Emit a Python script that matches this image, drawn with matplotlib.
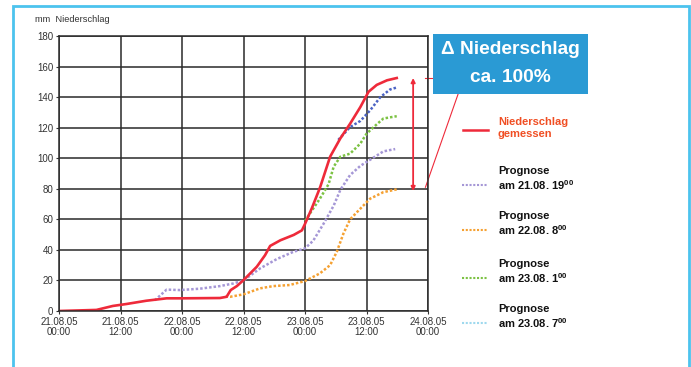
import matplotlib
matplotlib.use("Agg")
import matplotlib.pyplot as plt
from matplotlib.patches import Rectangle

plt.rcParams["font.family"] = ["Liberation Sans", "DejaVu Sans"]
plt.rcParams["mathtext.fontset"] = "custom"
plt.rcParams["mathtext.rm"] = "Liberation Sans:bold"
plt.rcParams["mathtext.it"] = "Liberation Sans:bold"

# Stunden ab 21.08.05 00:00
gemessen_t = [0, 7.3, 10.5, 13.2, 17, 21, 24.2, 31.4, 32.7, 33.5, 34.7, 36, 38.6, 40.2,
              41.2, 43.2, 45.8, 47.4, 48, 49.3, 50.6, 51, 52.9, 54.9, 56.8, 58.8, 60.4,
              62, 64, 65.9]
gemessen_v = [0, 0.7, 3.3, 4.6, 6.7, 8.3, 8.3, 8.5, 9.3, 13.7, 16.3, 20.2, 29, 36.5,
              42.6, 46.3, 49.8, 52.8, 57, 67, 78, 81.5, 101, 113, 122.6, 133.5, 143.5,
              148, 151, 152.5]

p2119_t = [18.7, 21, 23.6, 27.5, 31.4, 34, 36, 39.2, 42.5, 45.7, 48, 49.6, 51.6, 53.6,
           54.9, 56.8, 58.8, 60.7, 63.3, 65.6]
p2119_v = [7, 14, 13.7, 14.6, 16.3, 18, 20, 27.8, 34, 38.7, 41, 46, 57, 69,
           79.3, 89, 95, 99, 104.5, 106]

p2208_t = [32.5, 33.4, 36, 39.2, 41.8, 45, 48, 50.9, 52.9, 54.2, 55.5, 56.8, 58.8, 60.7,
           63.3, 65.9]
p2208_v = [9.5, 9.3, 10.9, 14.8, 16.3, 17, 19.6, 24.6, 30, 38.7, 50.7, 60, 67, 73.5,
           77.8, 79.6]

p2301_t = [48, 50.9, 52.6, 53.6, 54.9, 56.8, 58.8, 60, 61.4, 63.3, 65.9]
p2301_v = [59, 73.5, 83, 94.5, 101, 103, 109.6, 116, 120.4, 126, 127.5]

p2307_t = [54.5, 56.8, 58.8, 60.7, 62.7, 64.6, 65.9]
p2307_v = [112, 120.4, 124.4, 131.3, 140, 145, 146.3]

x_ticks = [0, 12, 24, 36, 48, 60, 72]
x_labels = ["21.08.05\n00:00", "21.08.05\n12:00", "22.08.05\n00:00", "22.08.05\n12:00",
            "23.08.05\n00:00", "23.08.05\n12:00", "24.08.05\n00:00"]
y_ticks = list(range(0, 181, 20))

prognosen = [
    (p2119_t, p2119_v, "#a597d6", "am 21.08. 19$^{00}$"),
    (p2208_t, p2208_v, "#f5a132", "am 22.08. 8$^{00}$"),
    (p2301_t, p2301_v, "#7cc243", "am 23.08. 1$^{00}$"),
    (p2307_t, p2307_v, "#4b63c4", "am 23.08. 7$^{00}$"),
]
legend_colors = ["#a597d6", "#f5a132", "#7cc243", "#9fd9ee"]

fig = plt.figure(figsize=(6.91, 3.67), dpi=100)
fig.patch.set_facecolor("white")
W, H = 691, 367

# blauer Rahmen
fig.patches.append(Rectangle((13 / W, -0.1), 676 / W, 1.1 - 6 / H, transform=fig.transFigure,
                             fill=False, edgecolor="#4cc3ee", linewidth=2))

ax = fig.add_axes([59 / W, 1 - 311 / H, 369 / W, 275 / H])
ax.set_xlim(0, 72)
ax.set_ylim(0, 180)
ax.set_xticks(x_ticks)
ax.set_xticklabels(x_labels, fontsize=7, color="#333333", linespacing=1.1)
ax.set_yticks(y_ticks)
ax.set_yticklabels([str(v) for v in y_ticks], fontsize=7, color="#333333")
ax.tick_params(length=2, pad=2, color="#333333")
ax.grid(True, color="#2a2a2a", linewidth=1.1)
for s in ax.spines.values():
    s.set_color("#2a2a2a")
    s.set_linewidth(1.1)

for t, v, c, _ in prognosen:
    ax.plot(t, v, color=c, linestyle=(0, (1, 0.8)), linewidth=1.8)
ax.plot(gemessen_t, gemessen_v, color="#ee2a3a", linewidth=1.9)

fig.text(35 / W, 1 - 20 / H, "mm  Niederschlag", fontsize=6.7, color="#333333",
         va="center")

# Differenzpfeil
ax.annotate("", xy=(69.1, 78.5), xytext=(69.1, 152.5),
            arrowprops=dict(arrowstyle="<|-|>", color="#ee2a3a", lw=1.3,
                            mutation_scale=6, shrinkA=0, shrinkB=0),
            annotation_clip=False)
ax.plot([71.5, 78.5], [152.5, 152.5], color="#ee2a3a", lw=0.8, clip_on=False)
ax.plot([71.5, 78.5], [81, 148], color="#ee2a3a", lw=0.8, clip_on=False)

# Kasten
fig.patches.append(Rectangle((433 / W, 1 - 94 / H), 155 / W, 60 / H,
                             transform=fig.transFigure, facecolor="#2a9ad4",
                             edgecolor="none", zorder=5))
fig.text(510 / W, 1 - 50 / H, "Δ Niederschlag", fontsize=13.8, color="white",
         fontweight="bold", ha="center", va="center", zorder=6)
fig.text(510 / W, 1 - 78 / H, "ca. 100%", fontsize=13.8, color="white",
         fontweight="bold", ha="center", va="center", zorder=6)

# Legende
fig.lines.append(plt.Line2D([463 / W, 488 / W], [1 - 130 / H, 1 - 130 / H],
                            transform=fig.transFigure, color="#ee2a3a", lw=1.8))
fig.text(498 / W, 1 - 128 / H, "Niederschlag\ngemessen", fontsize=8, color="#f04e23",
         fontweight="bold", va="center", linespacing=1.2)
leg_y = [185, 230, 278, 323]
for (t, v, c, lab), lc, y in zip(prognosen, legend_colors, leg_y):
    fig.lines.append(plt.Line2D([462 / W, 488 / W], [1 - y / H, 1 - y / H],
                                transform=fig.transFigure, color=lc, lw=1.5,
                                linestyle=(0, (1, 0.8))))
    fig.text(498 / W, 1 - (y - 6) / H, "Prognose\n" + lab, fontsize=8, color="#111111",
             fontweight="bold", va="center", linespacing=1.2)

fig.savefig("out.png", dpi=100)
